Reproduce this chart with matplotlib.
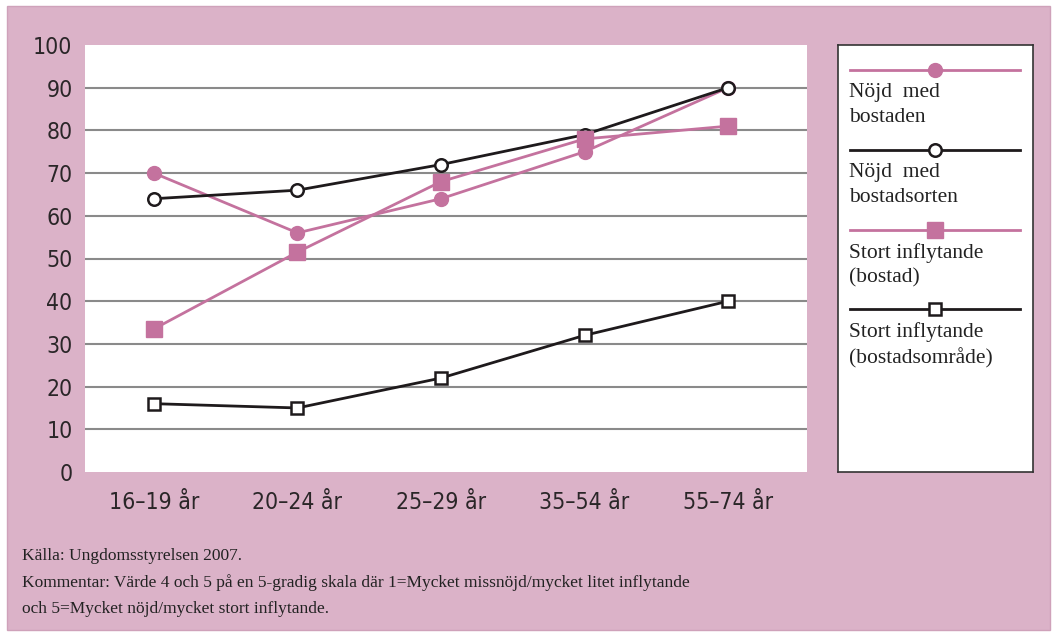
import matplotlib
matplotlib.use("Agg")
import matplotlib.pyplot as plt
from matplotlib.patches import Rectangle
from matplotlib import font_manager

categories = ["16–19 år", "20–24 år", "25–29 år", "35–54 år", "55–74 år"]
nojd_bostaden = [70, 56, 64, 75, 90]
nojd_bostadsorten = [64, 66, 72, 79, 90]
inflytande_bostad = [33.5, 51.5, 68, 78, 81]
inflytande_omrade = [16, 15, 22, 32, 40]

series_labels = ["Nöjd  med\nbostaden", "Nöjd  med\nbostadsorten",
                 "Stort inflytande\n(bostad)", "Stort inflytande\n(bostadsområde)"]

footer = ["Källa: Ungdomsstyrelsen 2007.",
          "Kommentar: Värde 4 och 5 på en 5-gradig skala där 1=Mycket missnöjd/mycket litet inflytande",
          "och 5=Mycket nöjd/mycket stort inflytande."]

pink_bg = "#dbb2c8"
pink = "#c4729e"
dark = "#1e1a1c"
serif = ["Liberation Serif", "DejaVu Serif"]

# narrow sans for the tick labels if one is around
cond = [f for f in font_manager.fontManager.ttflist
        if f.name == "DejaVu Sans" and "ondensed" in f.fname and "Bold" not in f.fname
        and "Oblique" not in f.fname]
if cond:
    tick_fp = font_manager.FontProperties(fname=cond[0].fname, size=16.5)
else:
    tick_fp = font_manager.FontProperties(family="DejaVu Sans", size=15)

W, H = 1054, 637
fig = plt.figure(figsize=(W / 100, H / 100), dpi=100)
fig.patch.set_facecolor("white")
fig.patches.append(Rectangle((7 / W, 7 / H), 1043 / W, 624 / H, transform=fig.transFigure,
                             facecolor=pink_bg, edgecolor="#cfa2ba", lw=1.0, zorder=-10))

ax = fig.add_axes([85 / W, 1 - 472 / H, 722 / W, 427 / H])
ax.set_facecolor("white")
x = range(len(categories))

styles = [
    (nojd_bostaden, dict(color=pink, marker="o", mfc=pink, mec=pink, ms=10)),
    (nojd_bostadsorten, dict(color=dark, marker="o", mfc="white", mec=dark, ms=9, mew=1.8)),
    (inflytande_bostad, dict(color=pink, marker="s", mfc=pink, mec=pink, ms=11)),
    (inflytande_omrade, dict(color=dark, marker="s", mfc="white", mec=dark, ms=9, mew=1.8)),
]
for vals, st in styles:
    ax.plot(x, vals, lw=2, zorder=3, **st)

ax.set_xlim(-0.48, len(categories) - 0.45)
ax.set_ylim(0, 100)
ax.set_yticks(range(0, 101, 10))
ax.set_xticks(list(x))
ax.set_xticklabels(categories)
for yv in range(10, 100, 10):
    ax.axhline(yv, color="#8a8a8a", lw=1.5, zorder=1)
for s in ax.spines.values():
    s.set_visible(False)
ax.tick_params(length=0, colors="#2a2628", pad=9)
ax.tick_params(axis="x", pad=14)
for lab in ax.get_xticklabels() + ax.get_yticklabels():
    lab.set_fontproperties(tick_fp)

# legend panel
lax = fig.add_axes([838 / W, 1 - 472 / H, 195 / W, 427 / H])
lax.set_xlim(0, 195)
lax.set_ylim(427, 0)
lax.set_xticks([])
lax.set_yticks([])
for s in lax.spines.values():
    s.set_color("#333333")
    s.set_linewidth(1.2)
rows = [25, 105, 185, 264]
for (vals, st), lbl, yr in zip(styles, series_labels, rows):
    lax.plot([12, 97, 182], [yr] * 3, lw=2, markevery=[1], clip_on=False, **st)
    lax.text(11, yr + 13, lbl, va="top", ha="left", fontsize=15.5, family=serif,
             color="#222222", linespacing=1.4)

for i, line in enumerate(footer):
    fig.text(22 / W, 1 - (556 + 26.5 * i) / H, line, fontsize=12.5, family=serif,
             color="#222222", va="center", ha="left")

fig.savefig("out.png", dpi=100, facecolor=fig.get_facecolor())
